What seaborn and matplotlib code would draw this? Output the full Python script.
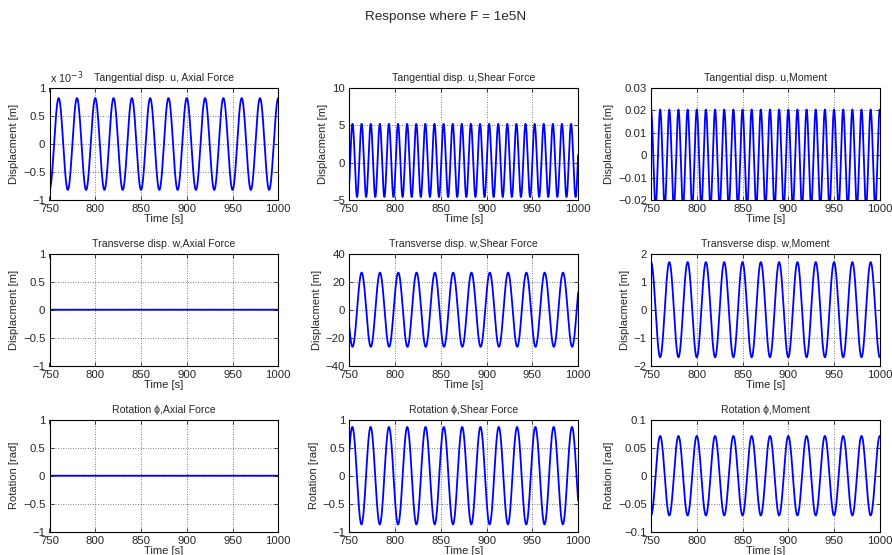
import numpy as np
import pandas as pd
import matplotlib
matplotlib.use("Agg")
import matplotlib.pyplot as plt
import matplotlib.ticker as mticker
import seaborn as sns

# ---- data (steady-state sinusoidal responses) ----
titles = [
    "Tangential disp. u, Axial Force", "Tangential disp. u,Shear Force", "Tangential disp. u,Moment",
    "Transverse disp. w,Axial Force", "Transverse disp. w,Shear Force", "Transverse disp. w,Moment",
    "Rotation \u03d5,Axial Force", "Rotation \u03d5,Shear Force", "Rotation \u03d5,Moment",
]
ylabels = ["Displacment [m]"] * 6 + ["Rotation [rad]"] * 3
# amplitude, mean offset, period [s], time of a peak [s]
amplitudes = [0.82e-3, 4.9, 0.0216, 0.0, 26.5, 1.7, 0.0, 0.87, 0.071]
offsets    = [0.0, 0.3, -0.0012, 0.0, 0.0, 0.0, 0.0, 0.0, 0.0]
periods    = [20.0, 9.95, 10.0, 20.0, 20.0, 20.0, 20.0, 20.0, 20.0]
peak_times = [760.0, 753.5, 750.0, 760.0, 763.5, 750.0, 760.0, 753.3, 760.0]
ylims = [(-1e-3, 1e-3), (-5, 10), (-0.02, 0.03), (-1, 1), (-40, 40), (-2, 2),
         (-1, 1), (-1, 1), (-0.1, 0.1)]
ysteps = [0.5e-3, 5, 0.01, 0.5, 20, 1, 0.5, 0.5, 0.05]
xticks = [750, 800, 850, 900, 950, 1000]
time = np.linspace(750, 1000, 3001)

sns.set_style("ticks")
plt.rcParams["font.family"] = ["Liberation Sans", "DejaVu Sans"]
plt.rcParams["axes.linewidth"] = 0.8
plt.rcParams["axes.unicode_minus"] = True

fig = plt.figure(figsize=(8.92, 5.55), dpi=100)
W, H = 892, 555
col_left = [49.5, 349.3, 651.0]
col_w = 228.8
row_bottom = [200.0, 365.7, 531.7]
row_h = 112.0

def fmt(v, pos, scale=1.0):
    s = "%g" % round(v * scale, 6)
    return s.replace("-", "\u2212")

for i in range(9):
    r, c = divmod(i, 3)
    ax = fig.add_axes([col_left[c] / W, 1 - row_bottom[r] / H, col_w / W, row_h / H])
    y = offsets[i] + amplitudes[i] * np.cos(2 * np.pi * (time - peak_times[i]) / periods[i])
    df = pd.DataFrame({"t": time, "v": y})
    sns.lineplot(data=df, x="t", y="v", ax=ax, color="#0000ff", linewidth=1.3,
                 estimator=None, sort=False)
    ax.set_xlim(750, 1000)
    ax.set_ylim(*ylims[i])
    ax.set_xticks(xticks)
    lo, hi = ylims[i]
    ax.set_yticks(np.arange(lo, hi + ysteps[i] / 2, ysteps[i]))
    scale = 1e3 if i == 0 else 1.0
    ax.yaxis.set_major_formatter(mticker.FuncFormatter(lambda v, p, s=scale: fmt(v, p, s)))
    ax.xaxis.set_major_formatter(mticker.FuncFormatter(lambda v, p: fmt(v, p)))
    ax.grid(True, linestyle=(0, (1, 2)), color="#555555", linewidth=0.6)
    ax.tick_params(direction="in", top=True, right=True, length=3, width=0.6,
                   labelsize=8.2, pad=3)
    for sp in ax.spines.values():
        sp.set_visible(True)
        sp.set_color("black")
    ax.set_title(titles[i], fontsize=7.6, pad=5)
    ax.set_xlabel("Time [s]", fontsize=8, labelpad=0)
    ax.set_ylabel(ylabels[i], fontsize=8, labelpad=3)
    if i == 0:
        ax.text(0.0, 1.02, "x 10$^{-3}$", transform=ax.transAxes, fontsize=7.8,
                ha="left", va="bottom")

fig.suptitle("Response where F = 1e5N", x=0.5, y=1 - 17 / H, va="center", fontsize=9.7)
fig.savefig("out.png", dpi=100)
